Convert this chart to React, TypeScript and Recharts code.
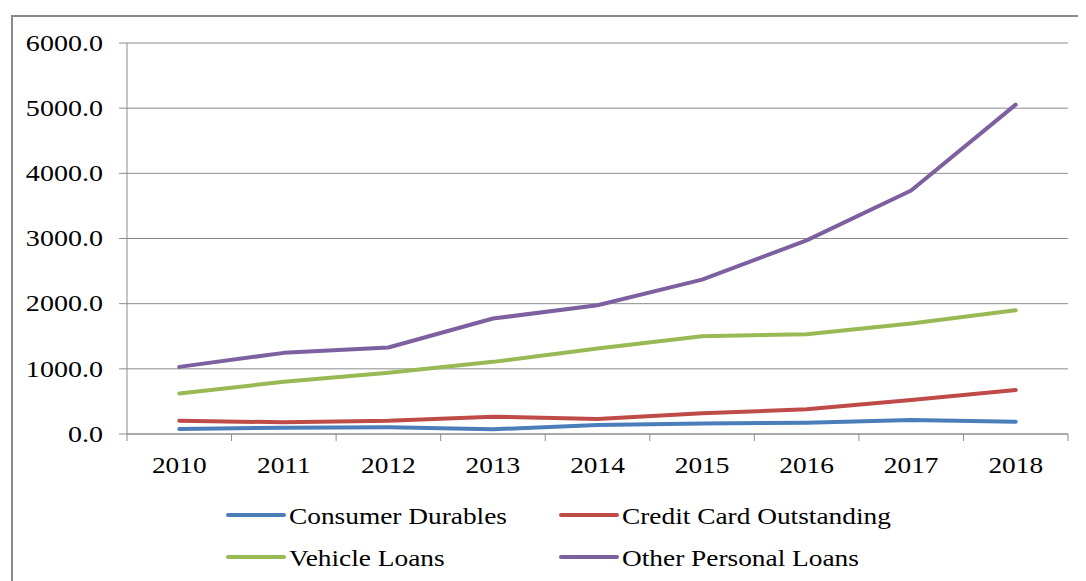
import React from 'react';
import { LineChart, Line, XAxis, YAxis, CartesianGrid } from 'recharts';

const years = ['2010', '2011', '2012', '2013', '2014', '2015', '2016', '2017', '2018'];
const consumerDurables = [77, 97, 102, 72, 138, 163, 173, 214, 189];
const creditCard = [204, 179, 204, 265, 230, 317, 378, 521, 674];
const vehicleLoans = [623, 801, 939, 1107, 1312, 1500, 1531, 1695, 1899];
const otherPersonal = [1030, 1245, 1328, 1772, 1975, 2369, 2971, 3737, 5054];
const yTicks = [0, 1000, 2000, 3000, 4000, 5000, 6000];

const series = [
  { key: 'cd', name: 'Consumer Durables', color: '#4a7ebb', values: consumerDurables },
  { key: 'cc', name: 'Credit Card Outstanding', color: '#be4b48', values: creditCard },
  { key: 'vl', name: 'Vehicle Loans', color: '#98b954', values: vehicleLoans },
  { key: 'op', name: 'Other Personal Loans', color: '#7d60a0', values: otherPersonal },
];

const data = years.map((year, i) => {
  const row: Record<string, string | number> = { year };
  series.forEach((s) => {
    row[s.key] = s.values[i];
  });
  return row;
});

const CHART_W = 1078;
const CHART_H = 573;
const Y_AXIS_W = 119;
const MARGIN_R = 18;
const BAND = (CHART_W - Y_AXIS_W - MARGIN_R) / years.length;
const FONT = '"Liberation Serif", "Times New Roman", serif';
const STRETCH = 1.14;
const Y_STRETCH = 1.22;
const AXIS_GRAY = '#8c8c8c';

const XTick = (props: any) => {
  const { x, y, payload } = props;
  const isLast = payload.value === years[years.length - 1];
  return (
    <g>
      <line x1={x - BAND / 2} y1={y} x2={x - BAND / 2} y2={y + 7} stroke={AXIS_GRAY} />
      {isLast && <line x1={x + BAND / 2} y1={y} x2={x + BAND / 2} y2={y + 7} stroke={AXIS_GRAY} />}
      <text
        transform={`translate(${x},${y + 39}) scale(${STRETCH},1)`}
        textAnchor="middle"
        fontFamily={FONT}
        fontSize={24}
        fill="#000"
      >
        {payload.value}
      </text>
    </g>
  );
};

const YTick = (props: any) => {
  const { x, y, payload } = props;
  return (
    <text
      transform={`translate(${x},${y}) scale(${Y_STRETCH},1)`}
      textAnchor="end"
      dy="0.34em"
      fontFamily={FONT}
      fontSize={23}
      fill="#000"
    >
      {Number(payload.value).toFixed(1)}
    </text>
  );
};

// legend placement: two columns, two rows
const legendCols = [220, 553];
const legendRows = [507, 549];

const LegendBlock = () => (
  <svg width={CHART_W} height={CHART_H} style={{ position: 'absolute', left: 0, top: 0, pointerEvents: 'none' }}>
    {series.map((s, i) => {
      const cx = legendCols[i % 2];
      const cy = legendRows[Math.floor(i / 2)];
      return (
        <g key={s.key}>
          <line x1={cx} y1={cy} x2={cx + 56} y2={cy} stroke={s.color} strokeWidth={4} strokeLinecap="round" />
          <text
            transform={`translate(${cx + 61},${cy + 9}) scale(${STRETCH},1)`}
            fontFamily={FONT}
            fontSize={24}
            fill="#000"
          >
            {s.name}
          </text>
        </g>
      );
    })}
  </svg>
);

export default function App() {
  return (
    <div style={{ position: 'relative', width: CHART_W, height: CHART_H, overflow: 'hidden', background: '#fff' }}>
      <div
        style={{
          position: 'absolute',
          left: 3,
          top: 7,
          width: 1100,
          height: 620,
          border: '2px solid #8a8a8a',
          boxSizing: 'border-box',
        }}
      />
      <div style={{ position: 'absolute', left: 0, top: 0 }}>
        <LineChart width={CHART_W} height={CHART_H} data={data} margin={{ top: 35, right: MARGIN_R, bottom: 0, left: 0 }}>
          <CartesianGrid vertical={false} stroke={AXIS_GRAY} strokeWidth={1} />
          <XAxis
            dataKey="year"
            scale="band"
            height={147}
            tickSize={0}
            tickMargin={0}
            tickLine={false}
            axisLine={{ stroke: AXIS_GRAY }}
            tick={<XTick />}
            interval={0}
          />
          <YAxis
            width={Y_AXIS_W}
            domain={[0, 6000]}
            ticks={yTicks}
            tickSize={8}
            tickMargin={16}
            tickLine={{ stroke: AXIS_GRAY }}
            axisLine={{ stroke: AXIS_GRAY }}
            tick={<YTick />}
            interval={0}
          />
          {series.map((s) => (
            <Line
              key={s.key}
              type="linear"
              dataKey={s.key}
              name={s.name}
              stroke={s.color}
              strokeWidth={4}
              strokeLinecap="round"
              strokeLinejoin="round"
              dot={false}
              activeDot={false}
              isAnimationActive={false}
            />
          ))}
        </LineChart>
      </div>
      <LegendBlock />
    </div>
  );
}
